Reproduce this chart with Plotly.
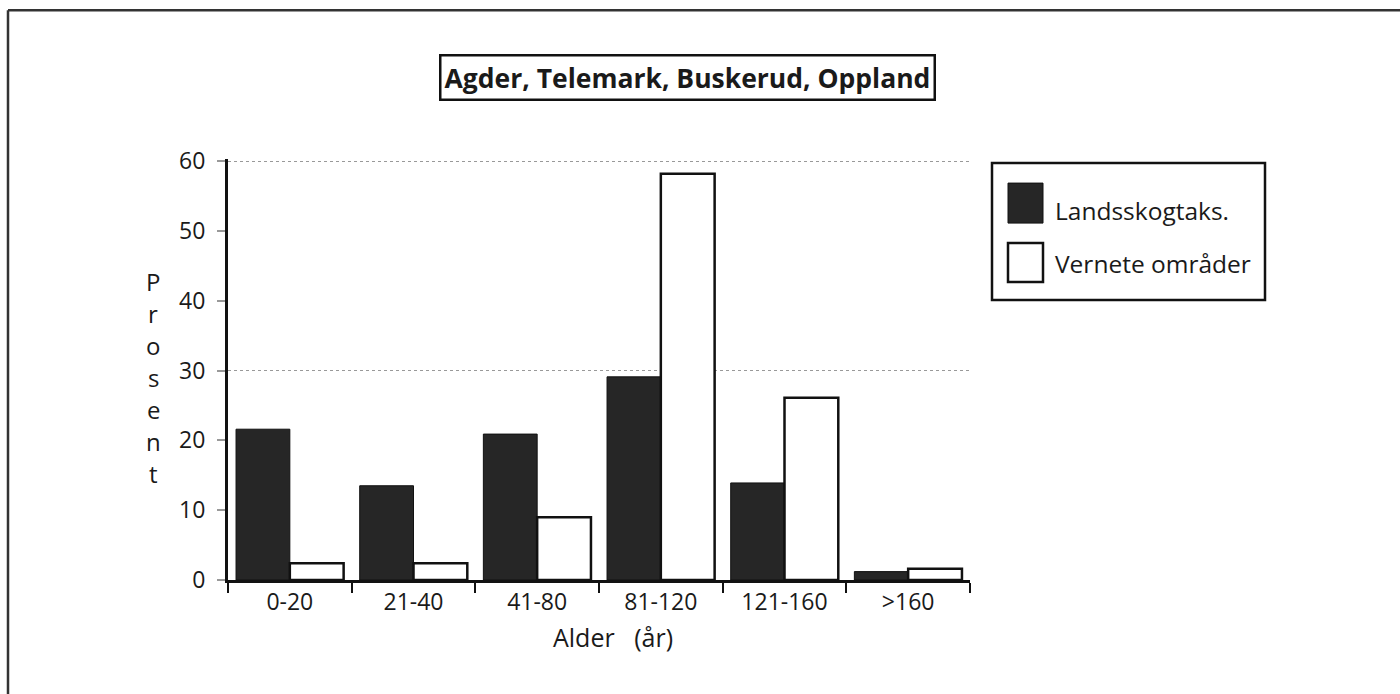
import plotly.graph_objects as go

categories = ["0-20", "21-40", "41-80", "81-120", "121-160", ">160"]
landsskog = [21.6, 13.5, 20.9, 29.1, 13.9, 1.2]
vernete = [2.4, 2.4, 9.0, 58.2, 26.1, 1.6]
series_names = ["Landsskogtaks.", "Vernete områder"]
y_ticks = [0, 10, 20, 30, 40, 50, 60]
title_text = "Agder, Telemark, Buskerud, Oppland"
x_title = "Alder\u00a0\u00a0 (år)"
y_title = "Prosent"

W, H = 1400, 694
YMAX = 60.3
L, R, B = 228, 970, 580
T = B - (B - 161) * YMAX / 60.0
FONT = "Open Sans"


def px(x):
    return (x - L) / (R - L)


def py(y):
    return (B - y) / (B - T)


fig = go.Figure()
fig.add_trace(go.Bar(x=categories, y=landsskog, name=series_names[0],
                     marker=dict(color="#262626", line=dict(color="#111", width=1)),
                     showlegend=False))
fig.add_trace(go.Bar(x=categories, y=vernete, name=series_names[1],
                     marker=dict(color="white", line=dict(color="#111", width=2.5)),
                     showlegend=False))

fig.update_layout(
    width=W, height=H,
    margin=dict(l=L, r=W - R, t=T, b=H - B, pad=0),
    paper_bgcolor="white", plot_bgcolor="rgba(0,0,0,0)",
    barmode="group", bargap=0.13, bargroupgap=0,
    font=dict(family=FONT, color="#1a1a1a", size=22),
    xaxis=dict(
        type="category", range=[-0.5, 5.5],
        showline=True, linecolor="#111", linewidth=2.5,
        ticks="outside", tickson="boundaries", ticklen=10, tickwidth=2, tickcolor="#111",
        tickfont=dict(size=23), showgrid=False, zeroline=False,
    ),
    yaxis=dict(
        range=[0, YMAX], tickvals=y_ticks,
        showline=True, linecolor="#111", linewidth=3,
        ticks="outside", ticklen=8, tickwidth=1.5, tickcolor="#999",
        ticklabelstandoff=7,
        tickfont=dict(size=23), showgrid=False, zeroline=False,
    ),
    yaxis2=dict(
        overlaying="y", range=[0, YMAX], tickvals=[30, 60],
        showgrid=True, gridcolor="#999", griddash="dot", gridwidth=1,
        showticklabels=False, showline=False, zeroline=False, ticks="",
    ),
)

fig.add_trace(go.Scatter(x=categories, y=[None] * len(categories), yaxis="y2",
                         showlegend=False, hoverinfo="skip"))

shapes = []
annotations = []

# outer frame (top and left)
shapes.append(dict(type="line", xref="paper", yref="paper",
                   x0=px(8), x1=px(1400), y0=py(10), y1=py(10),
                   line=dict(color="#333", width=2.5)))
shapes.append(dict(type="line", xref="paper", yref="paper",
                   x0=px(8), x1=px(8), y0=py(10), y1=py(694),
                   line=dict(color="#333", width=2.5)))

# title box
annotations.append(dict(xref="paper", yref="paper", x=px(687), y=py(77),
                        text="<b>" + title_text + "</b>", showarrow=False,
                        font=dict(size=26.5, family=FONT, color="#1a1a1a"),
                        bordercolor="#111", borderwidth=2.5, borderpad=3,
                        bgcolor="white", xanchor="center", yanchor="middle"))

# x-axis title
annotations.append(dict(xref="paper", yref="paper", x=px(613), y=py(637),
                        text=x_title, showarrow=False,
                        font=dict(size=25, family=FONT, color="#1a1a1a"),
                        xanchor="center", yanchor="middle"))

# y-axis title, stacked letters
for i, ch in enumerate(y_title):
    annotations.append(dict(xref="paper", yref="paper", x=px(153), y=py(281 + 32 * i),
                            text=ch, showarrow=False,
                            font=dict(size=24, family=FONT, color="#1a1a1a"),
                            xanchor="center", yanchor="middle"))

# legend box
shapes.append(dict(type="rect", xref="paper", yref="paper",
                   x0=px(992), x1=px(1265), y0=py(300), y1=py(163),
                   line=dict(color="#111", width=2.5), fillcolor="white"))
shapes.append(dict(type="rect", xref="paper", yref="paper",
                   x0=px(1008), x1=px(1043), y0=py(223), y1=py(183),
                   line=dict(color="#111", width=1), fillcolor="#262626"))
shapes.append(dict(type="rect", xref="paper", yref="paper",
                   x0=px(1008), x1=px(1043), y0=py(282), y1=py(243),
                   line=dict(color="#111", width=2.5), fillcolor="white"))
for name, yc in zip(series_names, [210, 263]):
    annotations.append(dict(xref="paper", yref="paper", x=px(1053), y=py(yc),
                            text=name, showarrow=False,
                            font=dict(size=24.5, family=FONT, color="#1a1a1a"),
                            xanchor="left", yanchor="middle"))

fig.update_layout(shapes=shapes, annotations=annotations)

fig.write_html("out.html", config={"displayModeBar": False},
               post_script="document.body.style.margin='0';")
